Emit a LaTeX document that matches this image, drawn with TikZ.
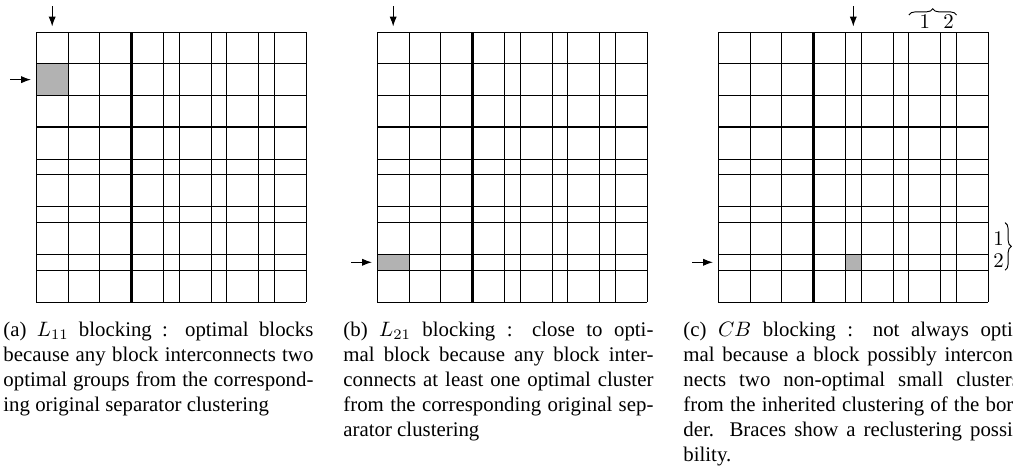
\documentclass[tikz,border=0pt]{standalone}
\usepackage{fontspec}
\setmainfont{Liberation Serif}
\usetikzlibrary{arrows.meta,decorations.pathreplacing}

% one block unit of the grid
\newcommand{\cellu}{15.882}
% caption line widths
\newcommand{\capwab}{148.8pt}
\newcommand{\capwc}{161.5pt}

\begin{document}
\begin{tikzpicture}[x=0.48pt,y=-0.48pt,
  gridline/.style={line width=0.45pt},
  sepline/.style={line width=1.1pt},
  blockfill/.style={fill=black!30},
  marker/.style={-{Latex[length=4.8pt,width=3.5pt]},line width=0.5pt},
  topbrace/.style={decorate,decoration={brace,amplitude=3pt},line width=0.45pt},
  lbl/.style={anchor=base,inner sep=0,font=\fontsize{10}{12}\selectfont},
  capline/.style={anchor=base west,inner sep=0,font=\fontsize{10}{12}\selectfont}]

\clip (0,0) rectangle (1013,468);

% selected blocks
\fill[blockfill] (36.3,32+2*\cellu) rectangle ++(2*\cellu,2*\cellu);
\fill[blockfill] (377.3,32+14*\cellu) rectangle ++(2*\cellu,\cellu);
\fill[blockfill] (718.3+8*\cellu,32+14*\cellu) rectangle ++(\cellu,\cellu);

% the three block grids, separator lines drawn thick
\foreach \gx in {36.3,377.3,718.3} {
  \begin{scope}[shift={(\gx,32)}]
    \foreach \k in {0,2,4,6,8,9,11,12,14,15,17} {
      \draw[gridline] (\k*\cellu,0) -- (\k*\cellu,17*\cellu);
      \draw[gridline] (0,\k*\cellu) -- (17*\cellu,\k*\cellu);
    }
    \draw[sepline] (6*\cellu,0) -- (6*\cellu,17*\cellu);
    \draw[sepline] (0,6*\cellu) -- (17*\cellu,6*\cellu);
  \end{scope}
}

% column / row markers
\coordinate (ad0) at (36.3+\cellu,6);   \coordinate (ad1) at (36.3+\cellu,26.5);
\coordinate (al0) at (10,32+3*\cellu);  \coordinate (al1) at (31,32+3*\cellu);
\coordinate (bd0) at (377.3+\cellu,6);  \coordinate (bd1) at (377.3+\cellu,26.5);
\coordinate (bl0) at (351,32+14.5*\cellu); \coordinate (bl1) at (372,32+14.5*\cellu);
\coordinate (cd0) at (718.3+8.5*\cellu,6); \coordinate (cd1) at (718.3+8.5*\cellu,26.5);
\coordinate (cl0) at (692,32+14.5*\cellu); \coordinate (cl1) at (713,32+14.5*\cellu);
\draw[marker] (ad0) -- (ad1);
\draw[marker] (al0) -- (al1);
\draw[marker] (bd0) -- (bd1);
\draw[marker] (bl0) -- (bl1);
\draw[marker] (cd0) -- (cd1);
\draw[marker] (cl0) -- (cl1);

% reclustering braces
\coordinate (tb0) at (718.3+12*\cellu,15); \coordinate (tb1) at (718.3+15*\cellu,15);
\draw[topbrace] (tb0) -- (tb1);
\node[lbl] (t1) at (718.3+13*\cellu,28.3) {$1$};
\node[lbl] (t2) at (718.3+14.5*\cellu,28.3) {$2$};
\coordinate (rb0) at (1005,32+12*\cellu); \coordinate (rb1) at (1005,32+15*\cellu);
\draw[topbrace] (rb0) -- (rb1);
\node[lbl] (r1) at (998.5,245) {$1$};
\node[lbl] (r2) at (998.5,267) {$2$};

% captions
\node[capline] (ca1) at (3,336) {\makebox[\capwab][s]{(a) $L_{11}$ blocking : optimal blocks}};
\node[capline] (ca2) at (3,361) {\makebox[\capwab][s]{because any block interconnects two}};
\node[capline] (ca3) at (3,386) {\makebox[\capwab][s]{optimal groups from the correspond-}};
\node[capline] (ca4) at (3,411) {ing original separator clustering};

\node[capline] (cb1) at (343,336) {\makebox[\capwab][s]{(b) $L_{21}$ blocking : close to opti-}};
\node[capline] (cb2) at (343,361) {\makebox[\capwab][s]{mal block because any block inter-}};
\node[capline] (cb3) at (343,386) {\makebox[\capwab][s]{connects at least one optimal cluster}};
\node[capline] (cb4) at (343,411) {\makebox[\capwab][s]{from the corresponding original sep-}};
\node[capline] (cb5) at (343,436) {arator clustering};

\node[capline] (cc1) at (683,336) {\makebox[\capwc][s]{(c) $CB$ blocking : not always opti-}};
\node[capline] (cc2) at (683,361) {\makebox[\capwc][s]{mal because a block possibly intercon-}};
\node[capline] (cc3) at (683,386) {\makebox[\capwc][s]{nects two non-optimal small clusters}};
\node[capline] (cc4) at (683,411) {\makebox[\capwc][s]{from the inherited clustering of the bor-}};
\node[capline] (cc5) at (683,436) {\makebox[\capwc][s]{der. Braces show a reclustering possi-}};
\node[capline] (cc6) at (683,461) {bility.};
\end{tikzpicture}
\end{document}
